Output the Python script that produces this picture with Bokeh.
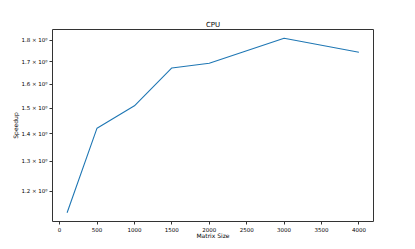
from bokeh.plotting import figure
from bokeh.models import FixedTicker, Range1d
from bokeh.embed import file_html
from bokeh.resources import INLINE

matrix_size = [100, 500, 1000, 1500, 2000, 3000, 4000]
speedup = [1.132, 1.421, 1.509, 1.671, 1.692, 1.810, 1.743]
x_ticks = [0, 500, 1000, 1500, 2000, 2500, 3000, 3500, 4000]
y_ticks = [1.2, 1.3, 1.4, 1.5, 1.6, 1.7, 1.8]
y_tick_labels = ["1.2 × 10⁰", "1.3 × 10⁰", "1.4 × 10⁰", "1.5 × 10⁰",
                 "1.6 × 10⁰", "1.7 × 10⁰", "1.8 × 10⁰"]

FONT = "DejaVu Sans"

p = figure(width=415, height=249, y_axis_type="log",
           x_range=Range1d(-95, 4195), y_range=Range1d(1.1055, 1.853),
           output_backend="svg", toolbar_location=None, title="CPU",
           min_border_left=52, min_border_right=42, min_border_top=29,
           min_border_bottom=28)

p.line(matrix_size, speedup, line_color="#1f77b4", line_width=1.1)

p.title.align = "center"
p.title.text_font = FONT
p.title.text_font_size = "7px"
p.title.text_font_style = "normal"
p.title.text_color = "black"
p.title.standoff = 1

p.xgrid.visible = False
p.ygrid.visible = False
p.outline_line_color = "#333333"
p.outline_line_width = 1
p.outline_line_alpha = 1

p.xaxis.ticker = FixedTicker(ticks=x_ticks)
p.yaxis.ticker = FixedTicker(ticks=y_ticks, minor_ticks=[])
p.yaxis.major_label_overrides = {t: l for t, l in zip(y_ticks, y_tick_labels)}

for ax in (p.xaxis, p.yaxis):
    ax.axis_line_color = None
    ax.major_tick_in = 0
    ax.major_tick_out = 3
    ax.major_tick_line_color = "#333333"
    ax.minor_tick_line_color = None
    ax.major_label_text_font = FONT
    ax.major_label_text_font_size = "5.5px"
    ax.major_label_text_color = "black"
    ax.major_label_standoff = 2
    ax.axis_label_text_font = FONT
    ax.axis_label_text_font_size = "6px"
    ax.axis_label_text_font_style = "normal"
    ax.axis_label_text_color = "black"

p.xaxis.axis_label_standoff = -3
p.yaxis.axis_label_standoff = -1
p.xaxis.axis_label = "Matrix Size"
p.yaxis.axis_label = "Speedup"

open("out.html", "w").write(file_html(p, INLINE))
